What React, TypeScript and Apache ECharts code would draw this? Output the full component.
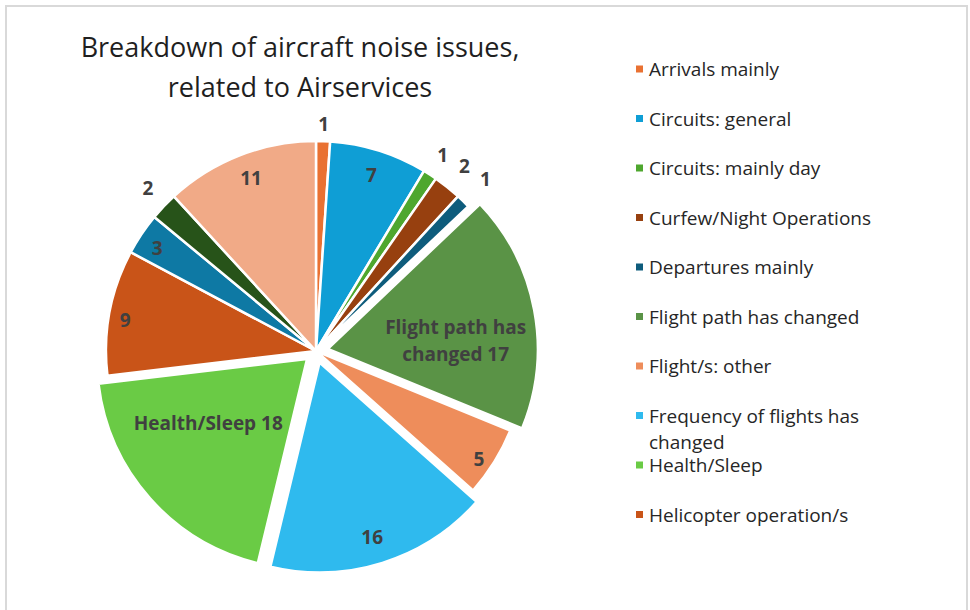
import React, { useEffect, useRef } from 'react';
import * as echarts from 'echarts';

const categories = [
  'Arrivals mainly',
  'Circuits: general',
  'Circuits: mainly day',
  'Curfew/Night Operations',
  'Departures mainly',
  'Flight path has changed',
  'Flight/s: other',
  'Frequency of flights has changed',
  'Health/Sleep',
  'Helicopter operation/s',
  'Low flying aircraft',
  'Noise: general',
  'Other',
];
const counts = [1, 7, 1, 2, 1, 17, 5, 16, 18, 9, 3, 2, 11];
const explodedSlices = ['Flight path has changed', 'Frequency of flights has changed', 'Health/Sleep'];
const labelText: Record<string, string> = {
  'Flight path has changed': 'Flight path has\nchanged',
  'Health/Sleep': 'Health/Sleep',
};
const legendGroupA = categories.slice(0, 7);
const legendGroupB = categories.slice(7, 8);
const legendGroupC = categories.slice(8, 10);
const legendText: Record<string, string> = {
  'Frequency of flights has changed': '\nFrequency of flights has\nchanged',
};
const titleText = 'Breakdown of aircraft noise issues,\nrelated to Airservices';

// styles
const colors = [
  '#E97132', '#0F9ED5', '#4EA72E', '#97400F', '#0E5C7C', '#5A9346', '#EE8D5B',
  '#2FBAEE', '#6ACB45', '#C95418', '#0E79A4', '#275319', '#F1AA87',
];
const labelRadius = [1.08, 0.88, 1.11, 1.13, 1.15, 0.61, 0.93, 0.87, 0.56, 0.92, 0.9, 1.115, 0.88];
const labelTurn = [0, 0, 0, 0, 0, 7, 1.5, 0.7, 8.7, -1.4, -1, 0.6, 0.7];
const CX = 316;
const CY = 351;
const R = 210;
const OFFSET = 12;
const FONT = '"Open Sans", "Noto Sans", sans-serif';

export default function App() {
  const ref = useRef<HTMLDivElement>(null);
  useEffect(() => {
    if (!ref.current) return;
    const chart = echarts.init(ref.current, null, { renderer: 'svg' });
    const total = counts.reduce((a, b) => a + b, 0);
    const midAngle = (i: number) => {
      const before = counts.slice(0, i).reduce((a, b) => a + b, 0);
      return ((before + counts[i] / 2) / total) * 360;
    };
    const legendBase = {
      orient: 'vertical',
      left: 634,
      padding: 0,
      itemWidth: 9,
      itemHeight: 9,
      itemGap: 23.5,
      itemTextGap: 10,
      icon: 'rect',
      selectedMode: false,
      textStyle: { fontFamily: FONT, fontSize: 19, lineHeight: 26, color: '#262626' },
      formatter: (name: string) => legendText[name] ?? name,
    };
    chart.setOption({
      animation: false,
      backgroundColor: '#ffffff',
      title: {
        text: titleText,
        left: 300,
        top: 26,
        padding: 0,
        textAlign: 'center',
        textStyle: { fontFamily: FONT, fontSize: 27, fontWeight: 'normal', lineHeight: 40, color: '#1f1f1f' },
      },
      legend: [
        { ...legendBase, top: 56, data: legendGroupA },
        { ...legendBase, top: 376.5, data: legendGroupB },
        { ...legendBase, top: 452, data: legendGroupC },
      ],
      graphic: [
        {
          type: 'rect',
          silent: true,
          shape: { x: 6, y: 6, width: 961, height: 640 },
          style: { fill: 'none', stroke: '#d9d9d9', lineWidth: 2 },
        },
      ],
      series: [
        {
          name: 'slices',
          type: 'pie',
          center: [CX, CY],
          radius: R,
          startAngle: 90,
          clockwise: true,
          selectedMode: 'multiple',
          selectedOffset: OFFSET,
          itemStyle: { borderColor: '#ffffff', borderWidth: 2.5 },
          label: { show: false },
          labelLine: { show: false },
          emphasis: { disabled: true },
          select: { itemStyle: { borderColor: '#ffffff', borderWidth: 2.5 } },
          data: categories.map((name, i) => ({
            name,
            value: counts[i],
            selected: explodedSlices.includes(name),
            itemStyle: { color: colors[i] },
          })),
        },
        {
          name: 'labels',
          type: 'pie',
          center: [CX, CY],
          radius: R,
          startAngle: 90,
          clockwise: true,
          silent: true,
          selectedMode: false,
          avoidLabelOverlap: false,
          itemStyle: { color: 'rgba(0,0,0,0)', borderWidth: 0 },
          label: {
            show: true,
            position: 'inside',
            color: '#404040',
            fontFamily: FONT,
            fontWeight: 'bold',
            fontSize: 19,
            lineHeight: 27,
            formatter: (p: any) => (labelText[p.name] ? `${labelText[p.name]} ${p.value}` : `${p.value}`),
          },
          labelLine: { show: false },
          emphasis: { disabled: true },
          labelLayout: (params: any) => {
            const i = params.dataIndex;
            const m = midAngle(i);
            let cx = CX;
            let cy = CY;
            if (explodedSlices.includes(categories[i])) {
              const mr = (m * Math.PI) / 180;
              cx += Math.sin(mr) * OFFSET;
              cy -= Math.cos(mr) * OFFSET;
            }
            const a = ((m + labelTurn[i]) * Math.PI) / 180;
            const d = R * labelRadius[i];
            return {
              x: cx + Math.sin(a) * d,
              y: cy - Math.cos(a) * d,
              align: 'center',
              verticalAlign: 'middle',
            };
          },
          data: categories.map((name, i) => ({ name, value: counts[i] })),
        },
      ],
    });
    return () => chart.dispose();
  }, []);
  return (
    <div
      ref={ref}
      style={{ position: 'fixed', left: 0, top: 0, width: 970, height: 610, background: '#fff' }}
    />
  );
}
